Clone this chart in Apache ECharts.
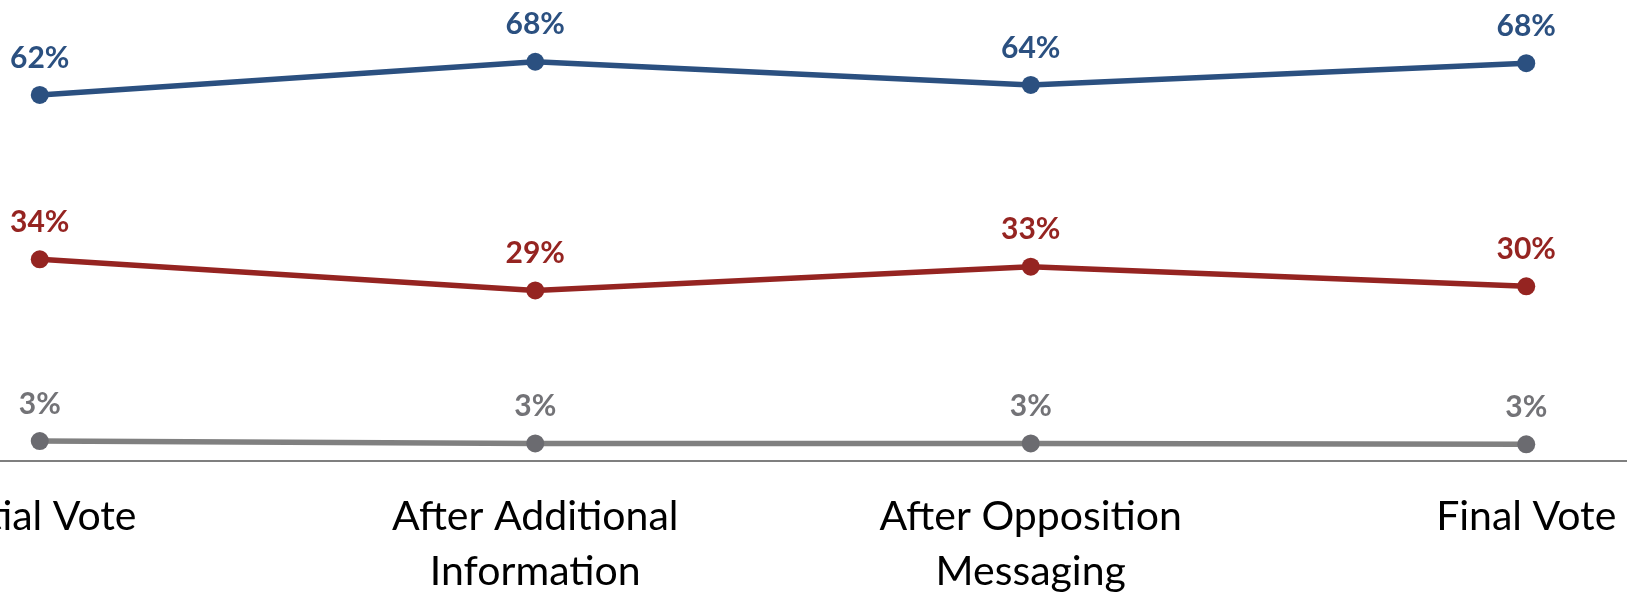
<!DOCTYPE html>
<html>
<head>
<meta charset="utf-8">
<style>
  html, body { margin: 0; padding: 0; background: #ffffff; }
  #chart { width: 1627px; height: 592px; }
</style>
<script src="https://cdn.jsdelivr.net/npm/echarts@6/dist/echarts.min.js"></script>
</head>
<body>
<div id="chart"></div>
<script>
// Categories (axis tick labels, wrapped as in the reference)
const categories = ['Initial Vote', 'After Additional\nInformation', 'After Opposition\nMessaging', 'Final Vote'];

// Series values (labels shown rounded)
const seriesBlue = [62.35, 68.0, 64.05, 67.75];
const seriesRed  = [34.35, 29.05, 33.1, 29.75];
const seriesGray = [3.4, 3.0, 3.0, 2.85];

const chart = echarts.init(document.getElementById('chart'), null, { renderer: 'canvas' });

function lineSeries(name, data, lineColor, markerColor, labelColor) {
  return {
    name: name,
    type: 'line',
    data: data,
    symbol: 'circle',
    symbolSize: 18,
    showAllSymbol: true,
    lineStyle: { color: lineColor, width: 5.5 },
    itemStyle: { color: markerColor },
    label: {
      show: true,
      position: 'top',
      distance: 13,
      color: labelColor,
      fontFamily: 'Lato',
      fontWeight: 'bold',
      fontSize: 30,
      lineHeight: 30,
      formatter: p => Math.round(p.value) + '%'
    },
    emphasis: { disabled: true },
    animation: false
  };
}

chart.setOption({
  animation: false,
  grid: { left: -208, right: -147, top: 50, bottom: 131, containLabel: false, outerBoundsMode: 'none' },
  xAxis: {
    type: 'category',
    data: categories,
    boundaryGap: true,
    axisLine: { show: true, lineStyle: { color: '#7f7f7f', width: 2 } },
    axisTick: { show: false },
    axisLabel: {
      interval: 0,
      color: '#000000',
      fontFamily: 'Lato',
      fontSize: 41,
      lineHeight: 55,
      margin: 28
    },
    splitLine: { show: false }
  },
  yAxis: {
    type: 'value',
    min: 0,
    max: 70,
    show: false,
    splitLine: { show: false }
  },
  series: [
    lineSeries('Support', seriesBlue, '#2b5080', '#2b5080', '#2b5080'),
    lineSeries('Oppose', seriesRed, '#952421', '#952421', '#952421'),
    lineSeries('Undecided', seriesGray, '#808080', '#6b6b70', '#737377')
  ]
});
</script>
</body>
</html>
